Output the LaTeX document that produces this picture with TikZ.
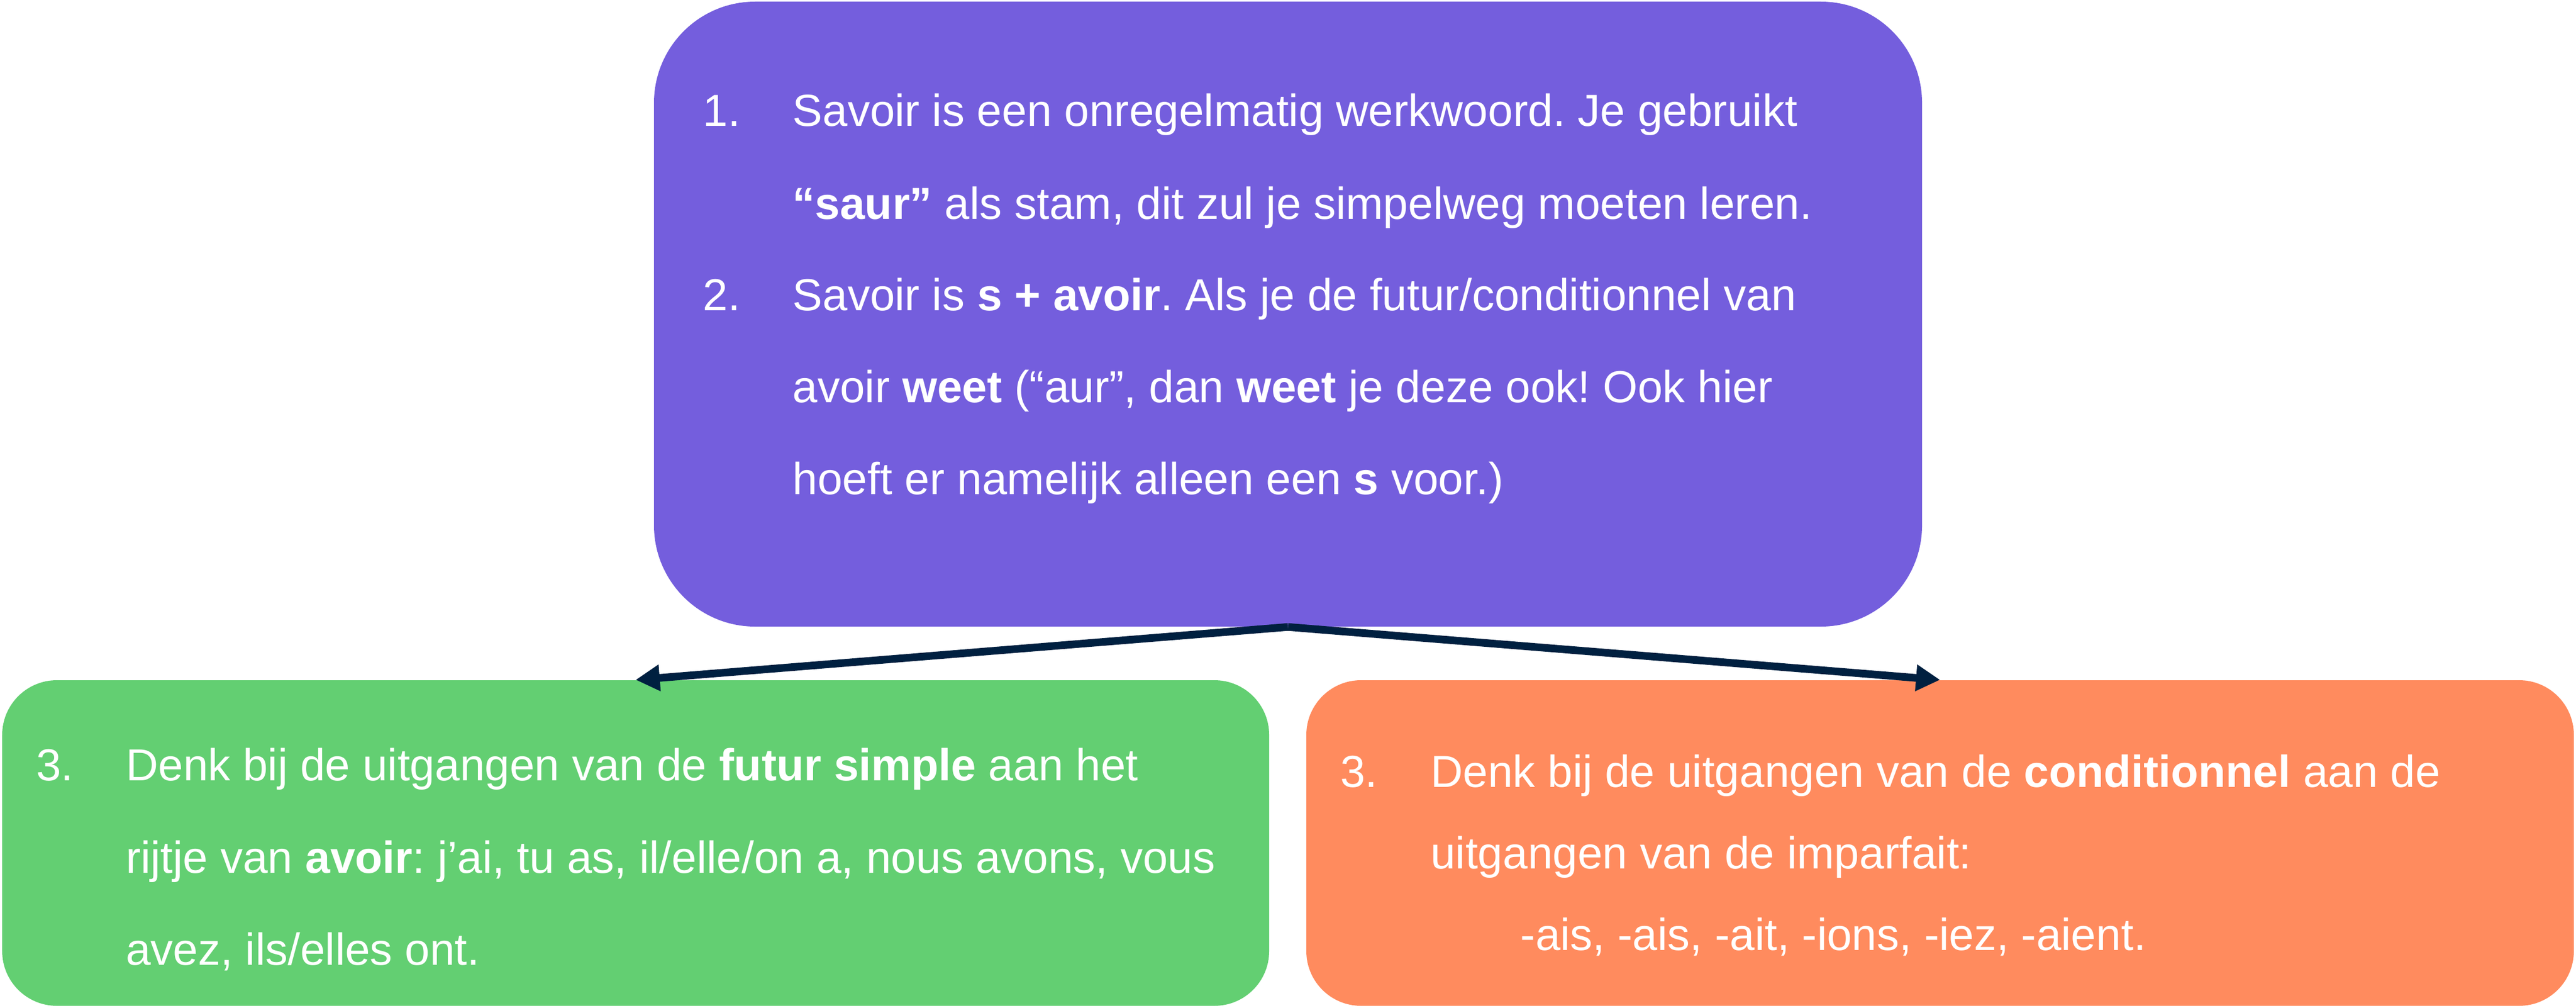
\documentclass[tikz,border=0pt]{standalone}
\usepackage{fontspec}
\setmainfont{Liberation Sans}
\usetikzlibrary{arrows.meta}
\definecolor{boxpurple}{HTML}{745EDD}
\definecolor{boxgreen}{HTML}{63CF72}
\definecolor{boxorange}{HTML}{FF8B5E}
\definecolor{linknavy}{HTML}{002040}
\frenchspacing
\begin{document}
\begin{tikzpicture}[
  purplebox/.style={fill=boxpurple, draw=none, rounded corners=1.85cm, inner sep=0pt,
    minimum width=23.19cm, minimum height=11.42cm},
  lowbox/.style={draw=none, rounded corners=1.0cm, inner sep=0pt,
    minimum width=23.17cm, minimum height=5.95cm},
  linetext/.style={anchor=base west, inner sep=0pt, text=white,
    font=\fontsize{23.34pt}{28pt}\selectfont\frenchspacing},
  arrowline/.style={draw=linknavy, line width=0.14cm,
    -{Triangle[length=0.44cm,width=0.46cm]}}
]
\useasboundingbox (0,0) rectangle (47.11,-18.42);

% boxes
\node[purplebox] (top) at (23.555,-5.74) {};
\node[lowbox, fill=boxgreen] (left) at (11.625,-15.405) {};
\node[lowbox, fill=boxorange, minimum width=23.18cm] (right) at (35.48,-15.405) {};

% connectors
\draw[arrowline] (top.south) -- (left.north);
\draw[arrowline] (top.south) -- (right.north);

% purple text
\node[linetext] (n1) at (12.85,-2.31) {1.};
\node[linetext] (t1a) at (14.49,-2.31) {Savoir is een onregelmatig werkwoord. Je gebruikt};
\node[linetext] (t1b) at (14.49,-4.00) {\textbf{“saur”} als stam, dit zul je simpelweg moeten leren.};
\node[linetext] (n2) at (12.85,-5.67) {2.};
\node[linetext] (t2a) at (14.49,-5.67) {Savoir is \textbf{s + avoir}. Als je de futur/conditionnel van};
\node[linetext] (t2b) at (14.49,-7.35) {avoir \textbf{weet} (“aur”, dan \textbf{weet} je deze ook! Ook hier};
\node[linetext] (t2c) at (14.49,-9.03) {hoeft er namelijk alleen een \textbf{s} voor.)};

% green text
\node[linetext] (n3l) at (0.655,-14.26) {3.};
\node[linetext] (t3la) at (2.295,-14.26) {Denk bij de uitgangen van de \textbf{futur simple} aan het};
\node[linetext] (t3lb) at (2.295,-15.95) {rijtje van \textbf{avoir}: j’ai, tu as, il/elle/on a, nous avons, vous};
\node[linetext] (t3lc) at (2.295,-17.63) {avez, ils/elles ont.};

% orange text
\node[linetext] (n3r) at (24.505,-14.38) {3.};
\node[linetext] (t3ra) at (26.155,-14.38) {Denk bij de uitgangen van de \textbf{conditionnel} aan de};
\node[linetext] (t3rb) at (26.155,-15.87) {uitgangen van de imparfait:};
\node[linetext] (t3rc) at (27.80,-17.36) {-ais, -ais, -ait, -ions, -iez, -aient.};
\end{tikzpicture}
\end{document}
